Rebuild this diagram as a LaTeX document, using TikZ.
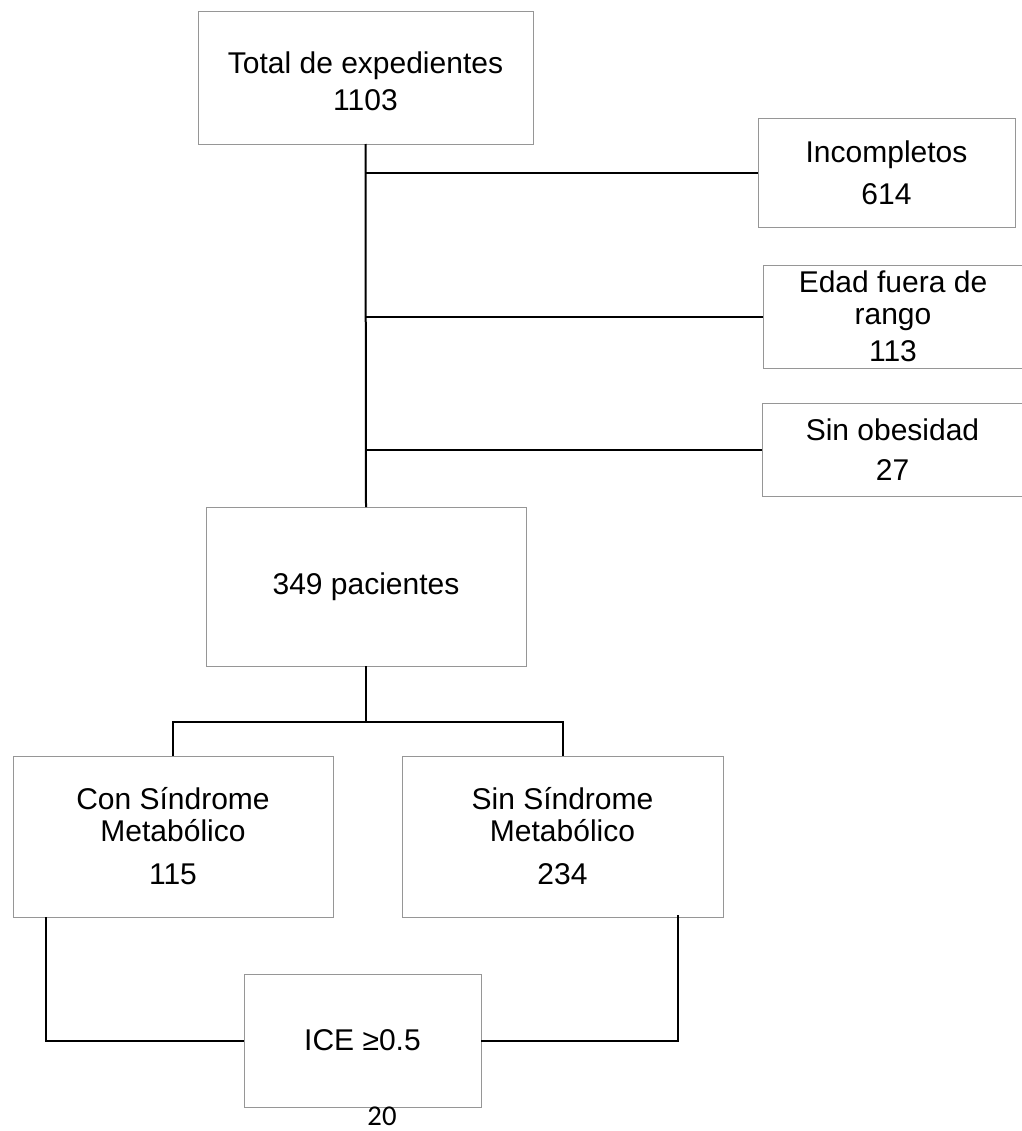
\documentclass[tikz,border=0pt]{standalone}
\usepackage{fontspec}
\setmainfont{Liberation Sans}
\newfontfamily\carlitofont{Carlito}
\usetikzlibrary{calc}
\begin{document}
\begin{tikzpicture}[x=0.75pt,y=-0.75pt,
  box/.style={draw={rgb,255:red,150;green,150;blue,150}, line width=0.75pt, inner sep=0pt, outer sep=0pt,
    align=center, font=\fontsize{22.5}{24}\selectfont},
  conn/.style={draw=black, line width=1.5pt}]
\useasboundingbox (0,0) rectangle (1021,1131);
\fill[white] (0,0) rectangle (1021,1131);
% nodes
\node[box, minimum width=335*0.75pt, minimum height=132*0.75pt] (top) at (365.5,78)
  {\rule{0pt}{21pt}Total de expedientes\\[3.75pt]1103};
\node[box, minimum width=257*0.75pt, minimum height=109*0.75pt] (inc) at (886.5,172.5)
  {Incompletos\\[7.5pt]614};
\node[box, minimum width=260*0.75pt, minimum height=103*0.75pt] (edad) at (893,316.5)
  {Edad fuera de\\rango\\[3.75pt]113};
\node[box, minimum width=261*0.75pt, minimum height=93*0.75pt] (sinob) at (892.5,449.5)
  {Sin obesidad\\[6pt]27};
\node[box, minimum width=320*0.75pt, minimum height=159*0.75pt] (pac) at (366,586.5)
  {349 pacientes};
\node[box, minimum width=320*0.75pt, minimum height=161*0.75pt] (con) at (173,836.5)
  {Con Síndrome\\Metabólico\\[8.25pt]115};
\node[box, minimum width=321*0.75pt, minimum height=161*0.75pt] (sin) at (562.5,836.5)
  {Sin Síndrome\\Metabólico\\[8.25pt]234};
\node[box, minimum width=237*0.75pt, minimum height=133*0.75pt] (ice) at (362.5,1040.5)
  {ICE ≥0.5};
\node[inner sep=0pt, font=\carlitofont\fontsize{21.5}{24}\selectfont] (n20) at (382,1116.5) {20};
% connectors
\draw[conn] (top.south) -- (pac.north);
\draw[conn] (top.south |- inc.west) -- (inc.west);
\draw[conn] (top.south |- edad.west) -- (edad.west);
\draw[conn] (top.south |- sinob.west) -- (sinob.west);
\coordinate (split) at (366,722);
\draw[conn] (pac.south) -- (split);
\draw[conn] (con.north) |- (split) -| (sin.north);
\draw[conn] ($(con.south west)+(33,0)$) |- (ice.west);
\draw[conn] ($(sin.south west)+(276,-2)$) |- (ice.east);
\end{tikzpicture}
\end{document}
